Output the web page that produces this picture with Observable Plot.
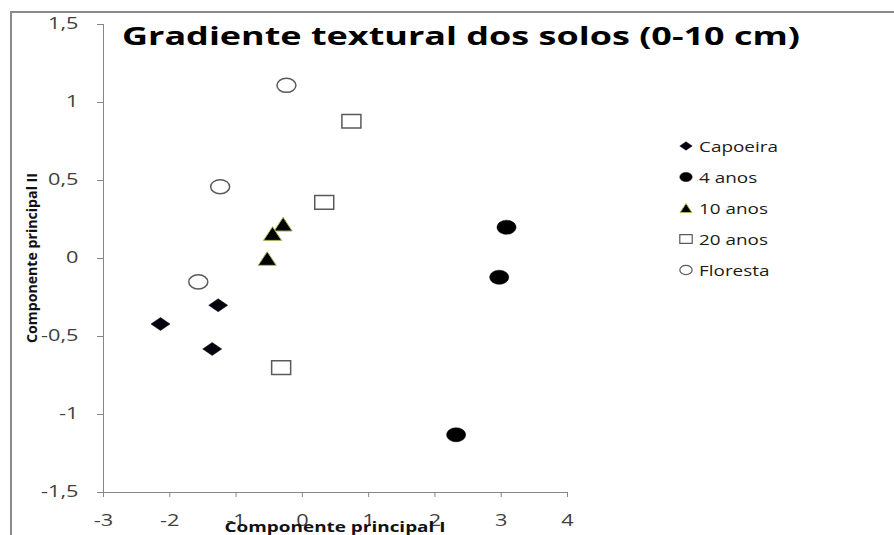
<!DOCTYPE html>
<html><head><meta charset="utf-8">
<script src="https://cdn.jsdelivr.net/npm/d3@7"></script>
<script src="https://cdn.jsdelivr.net/npm/@observablehq/plot@0.6"></script>
<style>
html,body{margin:0;padding:0;background:#fff;}
#chart{position:relative;width:894px;height:535px;overflow:hidden;}
</style>
</head><body><div id="chart"></div>
<script>
// ---- data ----
const seriesNames = ["Capoeira", "4 anos", "10 anos", "20 anos", "Floresta"];
const capoeiraX = [-2.14, -1.27, -1.36];
const capoeiraY = [-0.42, -0.30, -0.58];
const anos4X = [3.08, 2.97, 2.32];
const anos4Y = [0.20, -0.12, -1.13];
const anos10X = [-0.29, -0.45, -0.53];
const anos10Y = [0.22, 0.16, 0.00];
const anos20X = [0.74, 0.33, -0.32];
const anos20Y = [0.88, 0.36, -0.70];
const florestaX = [-0.24, -1.24, -1.57];
const florestaY = [1.11, 0.46, -0.15];
const xTicks = [-3, -2, -1, 0, 1, 2, 3, 4];
const yTicks = [-1.5, -1, -0.5, 0, 0.5, 1, 1.5];
const titleText = "Gradiente textural dos solos (0-10 cm)";
const xLabel = "Componente principal I";
const yLabel = "Componente principal II";

const fmt = d => String(d).replace(".", ",");
const pts = (xs, ys) => xs.map((x, i) => ({x, y: ys[i]}));

// custom (horizontally stretched) symbols
function sym(fn) { return {draw(ctx, size) { const r = Math.sqrt(size / Math.PI); fn(ctx, r); }}; }
const ellipseSym = sym((c, r) => {
  const a = r, b = r * 0.74, k = 0.5523;
  c.moveTo(a, 0);
  c.bezierCurveTo(a, b * k, a * k, b, 0, b);
  c.bezierCurveTo(-a * k, b, -a, b * k, -a, 0);
  c.bezierCurveTo(-a, -b * k, -a * k, -b, 0, -b);
  c.bezierCurveTo(a * k, -b, a, -b * k, a, 0);
  c.closePath();
});
const rectSym = sym((c, r) => {
  const a = r, b = r * 0.72;
  c.moveTo(-a, -b); c.lineTo(a, -b); c.lineTo(a, b); c.lineTo(-a, b); c.closePath();
});
const diamondSym = sym((c, r) => {
  const a = r, b = r * 0.68;
  c.moveTo(0, -b); c.lineTo(a, 0); c.lineTo(0, b); c.lineTo(-a, 0); c.closePath();
});
const triSym = sym((c, r) => {
  const a = r * 0.95, b = r * 0.72;
  c.moveTo(0, -b); c.lineTo(a, b); c.lineTo(-a, b); c.closePath();
});

const styles = [
  {symbol: diamondSym, fill: "#05050f", stroke: "#05050f", strokeWidth: 0.5},
  {symbol: ellipseSym, fill: "#000", stroke: "#000", strokeWidth: 0.5},
  {symbol: triSym, fill: "#000", stroke: "#a4b85a", strokeWidth: 1},
  {symbol: rectSym, fill: "#fff", stroke: "#5a5a5a", strokeWidth: 1.5},
  {symbol: ellipseSym, fill: "#fff", stroke: "#5a5a5a", strokeWidth: 1.5}
];
const seriesData = [
  pts(capoeiraX, capoeiraY), pts(anos4X, anos4Y), pts(anos10X, anos10Y),
  pts(anos20X, anos20Y), pts(florestaX, florestaY)
];

const R = 9.5;
const plot = Plot.plot({
  width: 894, height: 535,
  marginLeft: 103, marginRight: 327, marginTop: 24, marginBottom: 43,
  x: {domain: [-3, 4]},
  y: {domain: [-1.5, 1.5]},
  style: {fontFamily: "'Open Sans', sans-serif", fontSize: "15.5px", background: "#fff", overflow: "visible"},
  marks: [
    Plot.ruleX([-3], {stroke: "#868686", strokeWidth: 1}),
    Plot.ruleY([-1.5], {stroke: "#868686", strokeWidth: 1}),
    Plot.axisX({ticks: xTicks, tickFormat: fmt, tickSize: 5, tickPadding: 17, stroke: "#868686", fill: "#404040", label: null}),
    Plot.axisY({ticks: yTicks, tickFormat: fmt, tickSize: 6, tickPadding: 19, stroke: "#868686", fill: "#404040", label: null}),
    ...seriesData.map((d, i) => Plot.dot(d, {x: "x", y: "y", r: R, ...styles[i]}))
  ]
});
document.getElementById("chart").appendChild(plot);

const svg = d3.select(plot);
function stretch(sel, k) {
  sel.each(function() {
    const L = this.getComputedTextLength();
    this.setAttribute("textLength", L * k);
    this.setAttribute("lengthAdjust", "spacingAndGlyphs");
  });
}
// stretch tick labels horizontally like the reference
stretch(svg.selectAll('g[aria-label="x-axis tick label"] text'), 1.4);
stretch(svg.selectAll('g[aria-label="y-axis tick label"] text'), 1.4);

// frame lines
const over = svg.append("g").attr("text-anchor", "start");
over.append("line").attr("x1", 10).attr("x2", 894).attr("y1", 12).attr("y2", 12).attr("stroke", "#8a8a8a").attr("stroke-width", 2);
over.append("line").attr("x1", 11).attr("x2", 11).attr("y1", 12).attr("y2", 535).attr("stroke", "#8a8a8a").attr("stroke-width", 2);

// title
over.append("text").attr("x", 122).attr("y", 45).attr("text-anchor", "start")
  .attr("font-family", "'Open Sans', sans-serif").attr("font-weight", 700).attr("font-size", 25)
  .attr("fill", "#000").attr("textLength", 678).attr("lengthAdjust", "spacingAndGlyphs")
  .text(titleText);

// axis labels
const xs = plot.scale("x"), ys = plot.scale("y");
const xc = (xs.range[0] + xs.range[1]) / 2;
const yc = (ys.range[0] + ys.range[1]) / 2;
over.append("text").attr("x", xc).attr("y", 532).attr("text-anchor", "middle")
  .attr("font-family", "'Open Sans', sans-serif").attr("font-weight", 700).attr("font-size", 15)
  .attr("fill", "#111").attr("textLength", 221).attr("lengthAdjust", "spacingAndGlyphs").text(xLabel);
over.append("text").attr("transform", `translate(37,${yc}) rotate(-90)`).attr("text-anchor", "middle")
  .attr("font-family", "'Open Sans', sans-serif").attr("font-weight", 700).attr("font-size", 14)
  .attr("fill", "#111").attr("textLength", 170).attr("lengthAdjust", "spacingAndGlyphs").text(yLabel);

// legend
const leg = over.append("g").attr("transform", "translate(686,146)");
const legItems = leg.selectAll("g").data(seriesNames).join("g")
  .attr("transform", (d, i) => `translate(0,${i * 31})`);
legItems.append("path")
  .attr("d", (d, i) => d3.symbol(styles[i].symbol, Math.PI * 6.2 * 6.2)())
  .attr("fill", (d, i) => styles[i].fill)
  .attr("stroke", (d, i) => styles[i].stroke)
  .attr("stroke-width", (d, i) => Math.min(styles[i].strokeWidth, 1.2));
const legText = legItems.append("text").attr("x", 13).attr("y", 5.5).attr("text-anchor", "start")
  .attr("font-family", "'Open Sans', sans-serif").attr("font-size", 15).attr("fill", "#1a1a1a")
  .text(d => d);
stretch(legText, 1.26);
</script>
</body></html>
